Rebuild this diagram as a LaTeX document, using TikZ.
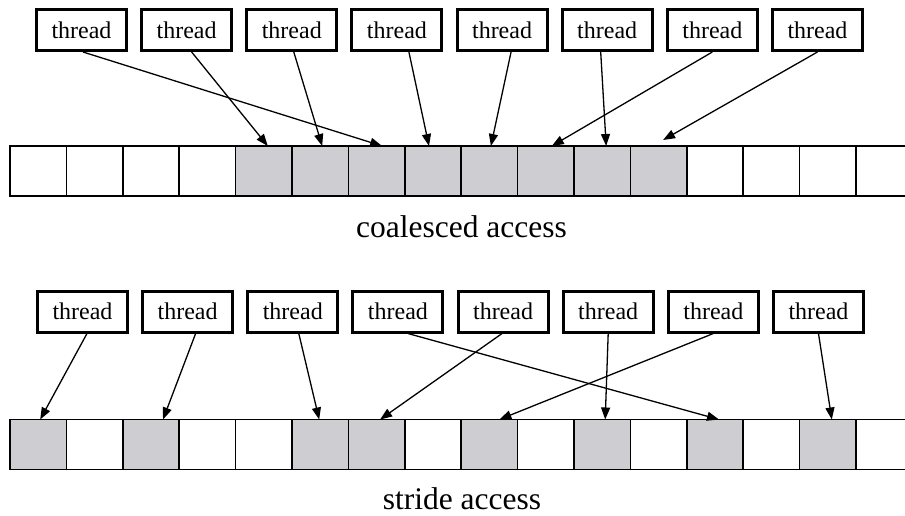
\documentclass[tikz,border=0pt]{standalone}
\usepackage{fontspec}
\setmainfont{Liberation Serif}
\usetikzlibrary{arrows.meta}
\definecolor{cellgrey}{RGB}{206,205,210}
\begin{document}
\begin{tikzpicture}[x=1pt,y=-1pt,
  thread/.style={draw,line width=3pt,minimum width=90pt,minimum height=41pt,inner sep=0pt,
    font=\fontsize{24}{28}\selectfont},
  cell/.style={draw,line width=1.5pt,minimum width=56.4pt,minimum height=50pt,inner sep=0pt,outer sep=0pt},
  usedcell/.style={cell,fill=cellgrey},
  link/.style={line width=1.3pt,-{Triangle[length=12pt,width=9pt]}},
  caption/.style={font=\fontsize{31.5}{36}\selectfont,anchor=base,inner sep=0pt}]
\clip (0,0) rectangle (905,516);

% ---------- coalesced access ----------
\foreach \i in {1,...,8}
  \node[thread] (t\i) at ({81.5+105.14*(\i-1)},30) {thread};
\foreach \k in {0,1,2,3,12,13,14,15}
  \node[cell] (a\k) at ({38.2+56.4*\k},171) {};
\foreach \k in {4,...,11}
  \node[usedcell] (a\k) at ({38.2+56.4*\k},171) {};

\draw[link] ([xshift=1.5pt]t1.south) -- ([xshift=5.5pt]a6.north);
\draw[link] ([xshift=5pt]t2.south)   -- ([xshift=4pt]a4.north);
\draw[link] ([xshift=2pt]t3.south)   -- ([xshift=2pt]a5.north);
\draw[link] ([xshift=12pt]t4.south)  -- ([xshift=-4pt]a7.north);
\draw[link] ([xshift=9pt]t5.south)   -- ([xshift=1.5pt]a8.north);
\draw[link] ([xshift=-6.5pt]t6.south) -- ([xshift=4pt]a10.north);
\draw[link] (t7.south) -- ([xshift=6pt]a9.north);
\draw[link] (t8.south) -- ([xshift=4.5pt,yshift=6pt]a11.north);

\node[caption] (cap1) at (461.5,237) {coalesced access};

% ---------- stride access ----------
\foreach \i in {1,...,8}
  \node[thread] (s\i) at ({82.5+105.14*(\i-1)},311.5) {thread};
\foreach \k in {1,3,4,7,9,11,13,15}
  \node[cell] (b\k) at ({38.2+56.4*\k},444.5) {};
\foreach \k in {0,2,5,6,8,10,12,14}
  \node[usedcell] (b\k) at ({38.2+56.4*\k},444.5) {};

\draw[link] ([xshift=4.5pt]s1.south) -- ([xshift=2pt]b0.north);
\draw[link] ([xshift=8pt]s2.south)   -- ([xshift=12pt]b2.north);
\draw[link] ([xshift=6pt]s3.south)   -- ([xshift=-1pt]b5.north);
\draw[link] ([xshift=10pt]s4.south)  -- ([xshift=4pt]b12.north);
\draw[link] ([xshift=-1pt]s5.south)  -- ([xshift=3.5pt]b6.north);
\draw[link] (s6.south) -- ([xshift=3pt]b10.north);
\draw[link] (s7.south) -- ([xshift=10pt]b8.north);
\draw[link] (s8.south) -- ([xshift=4pt]b14.north);

\node[caption] (cap2) at (462,509) {stride access};
\end{tikzpicture}
\end{document}
